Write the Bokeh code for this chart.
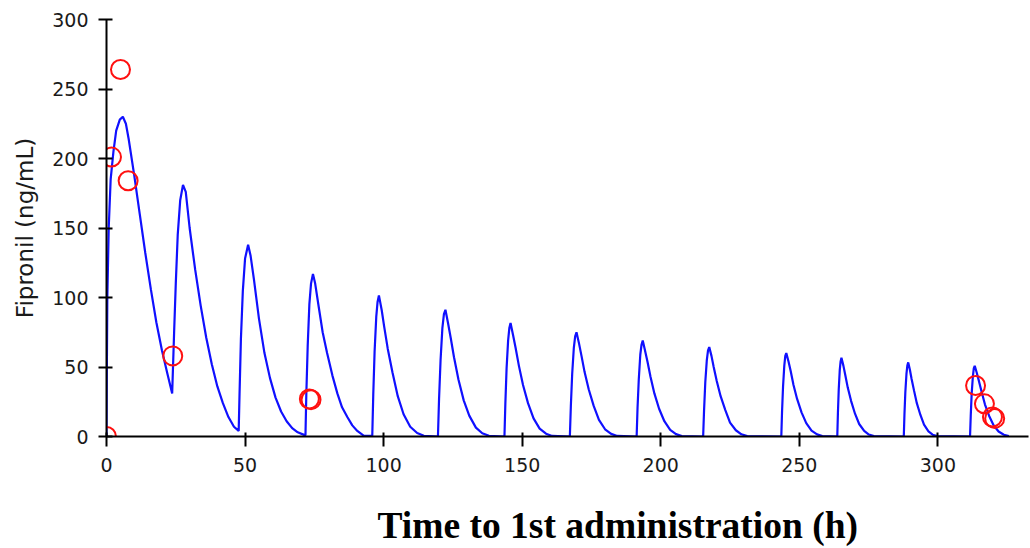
from bokeh.plotting import figure
from bokeh.models import Range1d, FixedTicker, Title
from bokeh.embed import file_html
from bokeh.resources import INLINE

# ---- data ----
# model-predicted fipronil concentration (blue line), hours vs ng/mL
pk_hours = [
    0, 0.1, 0.3, 0.8, 1.5, 2.5, 3.5, 4.8, 5.9, 7, 8, 10, 12, 14, 16, 18, 20, 22, 23.7,
    24.0, 24.4, 25.0, 25.7, 26.6, 27.6, 28.6, 30, 32, 34, 36, 38, 40, 42, 44, 46, 47.7,
    48.0, 48.5, 49.2, 50.0, 51.1, 52.0, 53.2, 55, 57, 59, 61, 63, 65, 67, 69, 71.5,
    71.8, 72.1, 72.6, 73.2, 73.8, 74.5, 75.3, 76.6, 78, 79.6, 81.5, 83.3, 85, 86.9, 88.7, 90.5, 92.9, 95.9,
    96.26, 96.74, 97.34, 97.82, 98.3, 99.3, 100.2, 101.5, 103.2, 105.1, 107.2, 109.6, 112.1, 114.5,
    119.6, 120.0, 120.55, 121.2, 121.76, 122.3, 123.2, 124.2, 125.4, 127.0, 128.9, 130.9, 133.3, 135.6, 138.0,
    143.6, 143.93, 144.37, 144.92, 145.36, 145.8, 146.7, 147.6, 148.8, 150.3, 152.1, 154.1, 156.3, 158.6, 160.8,
    167.2, 167.56, 168.04, 168.64, 169.12, 169.6, 170.5, 171.4, 172.5, 174.0, 175.8, 177.7, 179.9, 182.1, 184.3,
    191.3, 191.63, 192.07, 192.62, 193.06, 193.5, 194.3, 195.2, 196.3, 197.7, 199.4, 201.3, 203.4, 205.5, 207.6,
    215.3, 215.63, 216.07, 216.62, 217.06, 217.5, 218.3, 219.1, 220.2, 221.6, 223.3, 225.0, 227.1, 229.1, 231.2,
    243.5, 243.77, 244.13, 244.58, 244.94, 245.3, 246.1, 246.9, 247.9, 249.2, 250.8, 252.5, 254.4, 256.4, 258.3,
    263.7, 263.93, 264.23, 264.6, 264.9, 265.2, 265.9, 266.6, 267.5, 268.7, 270.1, 271.6, 273.4, 275.1, 276.9,
    287.7, 287.94, 288.26, 288.66, 288.98, 289.3, 289.9, 290.5, 291.4, 292.4, 293.7, 295.0, 296.6, 298.1, 299.7,
    311.6, 311.86, 312.2, 312.62, 312.96, 313.3, 314.0, 314.8, 315.8, 317.0, 318.5, 320.1, 321.9, 323.8, 325.6,
]
pk_conc = [
    0, 40, 100, 150, 185, 205, 220, 228, 230, 225, 214, 188, 160, 132, 106, 82, 62, 45, 31,
    50, 75, 110, 145, 170, 181, 176, 150, 120, 94, 71, 52, 36, 24, 14, 7, 4,
    30, 70, 105, 128, 138, 130, 113, 85, 60, 42, 28, 18, 11, 6, 3, 1,
    1, 30, 65, 95, 110, 117, 110, 93, 75, 60, 44, 31, 21, 14, 8, 4, 0.5, 0.5,
    30, 61, 86, 97, 101.5, 91, 79, 63, 46, 29, 16, 7, 2.5, 0.5,
    0, 27, 55, 78, 88, 91.2, 82, 71, 57, 41, 26, 15, 6.4, 2.3, 0.5,
    0, 24, 49, 69, 78, 81.6, 73, 64, 51, 37, 24, 13, 5.7, 2, 0.4,
    0, 22, 45, 64, 72, 75, 67, 58, 46.5, 34, 22, 12, 5.2, 1.9, 0.4,
    0, 21, 41, 59, 66, 69, 62, 54, 43, 31, 20, 11, 4.8, 1.7, 0.3,
    0, 19, 39, 55, 62, 64.3, 58, 50, 40, 29, 19, 10, 4.5, 1.6, 0.3,
    0, 18, 36, 51, 58, 60, 54, 47, 37, 27, 17.4, 9.6, 4.2, 1.5, 0.3,
    0, 17, 34, 48, 54, 56.6, 51, 44, 35, 25.5, 16.4, 9, 4, 1.4, 0.3,
    0, 16, 32, 45, 51, 53.3, 48, 41.5, 33, 24, 15.5, 8.5, 3.7, 1.3, 0.3,
    0, 15, 31, 43, 49, 50.9, 46, 40, 32, 23, 14.8, 8.1, 3.6, 1.3, 0.3,
]

# observed concentrations (red circles)
obs_hours = [0, 1.8, 5.05, 7.8, 23.9, 73.2, 73.8, 313.6, 316.8, 319.7, 320.5]
obs_conc = [0, 201, 264, 184, 58, 27, 26.5, 36.7, 23.5, 14, 13]

x_ticks = [0, 50, 100, 150, 200, 250, 300]
y_ticks = [0, 50, 100, 150, 200, 250, 300]
x_title = "Time to 1st administration (h)"
y_title = "Fipronil (ng/mL)"

# ---- figure ----
p = figure(width=1030, height=548, output_backend="svg", toolbar_location=None,
           x_range=Range1d(0, 332.7), y_range=Range1d(0, 300),
           min_border_left=106, min_border_right=2, min_border_top=19, min_border_bottom=112)
p.outline_line_color = None
p.grid.visible = False
p.background_fill_color = "white"
p.border_fill_color = "white"

p.line(pk_hours, pk_conc, line_color="#1010ff", line_width=2.2)
p.scatter(obs_hours, obs_conc, marker="circle", size=19, fill_color=None,
          line_color="#ff1010", line_width=2)

tick_font = "DejaVu Sans"
for ax, ticks in ((p.xaxis[0], x_ticks), (p.yaxis[0], y_ticks)):
    ax.ticker = FixedTicker(ticks=ticks)
    ax.minor_tick_line_color = None
    ax.axis_line_color = "black"
    ax.axis_line_width = 2
    ax.major_tick_line_color = "black"
    ax.major_tick_line_width = 2
    ax.major_label_text_font = tick_font
    ax.major_label_text_font_size = "19px"
    ax.major_label_text_color = "#1a1a1a"

p.xaxis.major_tick_in = 4
p.xaxis.major_tick_out = 10
p.xaxis.major_label_standoff = 11
p.yaxis.major_tick_in = 6
p.yaxis.major_tick_out = 8
p.yaxis.major_label_standoff = 10

p.yaxis.axis_label = y_title
p.yaxis.axis_label_text_font = tick_font
p.yaxis.axis_label_text_font_size = "23px"
p.yaxis.axis_label_text_font_style = "normal"
p.yaxis.axis_label_text_color = "#1a1a1a"
p.yaxis.axis_label_standoff = 11

# blank spacer between the tick labels and the x title
p.add_layout(Title(text=" ", standoff=26, text_font_size="2px", text_color="white"), "below")
p.add_layout(Title(text=x_title, align="left", offset=271, standoff=0,
                   vertical_align="top",
                   text_font="Liberation Serif", text_font_style="bold",
                   text_font_size="37.5px", text_color="black"), "below")

open("out.html", "w").write(file_html(p, INLINE))
